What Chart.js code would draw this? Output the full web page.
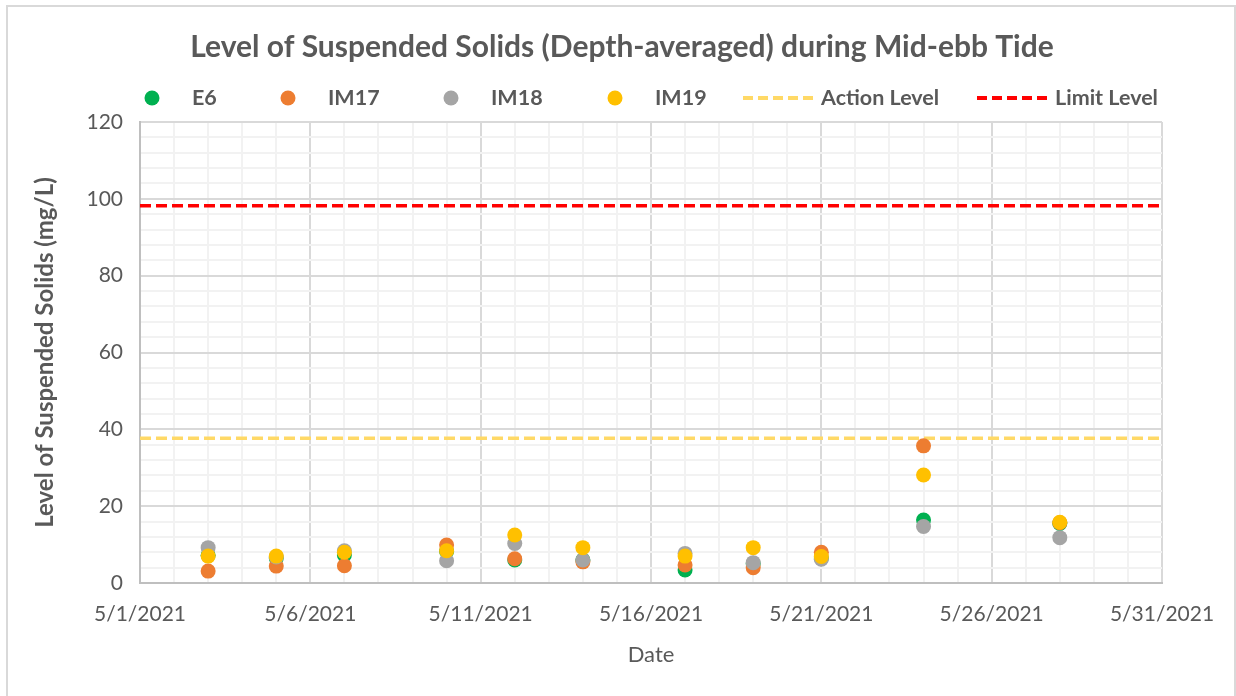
<!DOCTYPE html>
<html>
<head>
<meta charset="utf-8">
<script src="https://cdn.jsdelivr.net/npm/chart.js@4.4.0/dist/chart.umd.min.js"></script>
<style>
  html, body { margin: 0; padding: 0; background: #fff; }
  #wrap { position: relative; width: 1236px; height: 696px; }
  #wrap canvas { position: absolute; left: 0; top: 0; }
  #frame { position: absolute; left: 6px; top: 5px; width: 1226px; height: 700px; border: 2px solid #d9d9d9; pointer-events: none; }
</style>
</head>
<body>
<div id="wrap">
  <canvas id="tssChart" width="1236" height="696"></canvas>
  <div id="frame"></div>
</div>
<script>
// sampling dates and depth-averaged SS (mg/L)
const dates = ['5/3/2021', '5/5/2021', '5/7/2021', '5/10/2021', '5/12/2021', '5/14/2021',
               '5/17/2021', '5/19/2021', '5/21/2021', '5/24/2021', '5/28/2021'];
const e6   = [7.2, 6.5, 7.3, 8.2, 6.0, 6.0, 3.4, 5.0, 6.5, 16.4, 15.5];
const im17 = [3.1, 4.4, 4.5, 9.9, 6.3, 5.5, 4.7, 4.0, 8.0, 35.7, 15.7];
const im18 = [9.2, 6.8, 8.4, 5.8, 10.3, 6.0, 7.7, 5.3, 6.2, 14.7, 11.8];
const im19 = [7.0, 7.0, 8.0, 8.4, 12.5, 9.2, 7.0, 9.2, 6.9, 28.1, 15.8];
const actionLevel = 37.7;
const limitLevel = 98.2;

const xTickLabels = ['5/1/2021', '5/6/2021', '5/11/2021', '5/16/2021', '5/21/2021', '5/26/2021', '5/31/2021'];
const yTickLabels = [0, 20, 40, 60, 80, 100, 120];

const dayOf = s => Number(s.split('/')[1]);
const xMin = dayOf(xTickLabels[0]);
const xMax = dayOf(xTickLabels[xTickLabels.length - 1]);
const toPoints = arr => arr.map((v, i) => ({ x: dayOf(dates[i]), y: v }));
const levelLine = v => [{ x: xMin, y: v }, { x: xMax, y: v }];

const textColor = '#595959';
const fontFamily = 'Lato, "Open Sans", sans-serif';

function dotSet(label, data, color, order) {
    return {
        label: label,
        data: toPoints(data),
        backgroundColor: color,
        borderColor: color,
        borderWidth: 0,
        pointRadius: 7.5,
        order: order
    };
}

function lineSet(label, value, color) {
    return {
        label: label,
        data: levelLine(value),
        showLine: true,
        borderColor: color,
        backgroundColor: color,
        borderWidth: 3.5,
        borderDash: [11, 5],
        pointRadius: 0,
        order: 10
    };
}

// title + excel-ish legend drawn straight onto the canvas
const legendX = [152, 288, 451, 615, 778, 1012];
const headerPlugin = {
    id: 'header',
    afterDraw(chart) {
        const ctx = chart.ctx;
        ctx.save();
        ctx.fillStyle = textColor;
        ctx.textBaseline = 'middle';
        ctx.textAlign = 'center';
        ctx.font = 'bold 30px ' + fontFamily;
        ctx.fillText('Level of Suspended Solids (Depth-averaged) during Mid-ebb Tide', 622, 47);

        ctx.textAlign = 'left';
        ctx.font = 'bold 21.5px ' + fontFamily;
        chart.data.datasets.forEach((ds, i) => {
            const cx = legendX[i];
            const cy = 98;
            if (ds.showLine) {
                ctx.strokeStyle = ds.borderColor;
                ctx.lineWidth = 4;
                ctx.setLineDash([10, 5]);
                ctx.beginPath();
                ctx.moveTo(cx - 35, cy);
                ctx.lineTo(cx + 35, cy);
                ctx.stroke();
                ctx.setLineDash([]);
                ctx.fillStyle = textColor;
                ctx.fillText(ds.label, cx + 43, cy);
            } else {
                ctx.fillStyle = ds.backgroundColor;
                ctx.beginPath();
                ctx.arc(cx, cy, 7.5, 0, Math.PI * 2);
                ctx.fill();
                ctx.fillStyle = textColor;
                ctx.fillText(ds.label, cx + 40, cy);
            }
        });
        ctx.restore();
    }
};

new Chart(document.getElementById('tssChart'), {
    type: 'scatter',
    data: {
        datasets: [
            dotSet('E6', e6, '#00b050', 4),
            dotSet('IM17', im17, '#ed7d31', 3),
            dotSet('IM18', im18, '#a5a5a5', 2),
            dotSet('IM19', im19, '#ffc000', 1),
            lineSet('Action Level', actionLevel, '#ffd966'),
            lineSet('Limit Level', limitLevel, '#ff0000')
        ]
    },
    options: {
        responsive: false,
        animation: false,
        layout: { padding: { top: 122, right: 74, bottom: 0, left: 0 } },
        plugins: {
            legend: { display: false },
            tooltip: { enabled: false },
            title: { display: false }
        },
        scales: {
            x: {
                type: 'linear',
                min: xMin,
                max: xMax,
                afterFit: s => { s.height = 113; },
                grid: {
                    drawTicks: false,
                    lineWidth: 2,
                    color: c => (c.tick && (c.tick.value - xMin) % 5 === 0) ? '#d9d9d9' : '#f2f2f2'
                },
                border: { color: '#bfbfbf', width: 2 },
                ticks: {
                    stepSize: 1,
                    autoSkip: false,
                    maxRotation: 0,
                    padding: 19,
                    color: textColor,
                    font: { family: fontFamily, size: 21 },
                    callback: v => ((v - xMin) % 5 === 0) ? xTickLabels[(v - xMin) / 5] : ''
                },
                title: {
                    display: true,
                    text: 'Date',
                    color: textColor,
                    font: { family: fontFamily, size: 22 },
                    padding: { top: 0, bottom: 28 }
                }
            },
            y: {
                min: yTickLabels[0],
                max: yTickLabels[yTickLabels.length - 1],
                afterFit: s => { s.width = 140; },
                grid: {
                    drawTicks: false,
                    lineWidth: 2,
                    color: c => (c.tick && c.tick.value % 20 === 0) ? '#d9d9d9' : '#f2f2f2'
                },
                border: { color: '#bfbfbf', width: 2 },
                ticks: {
                    stepSize: 4,
                    autoSkip: false,
                    padding: 17,
                    color: textColor,
                    font: { family: fontFamily, size: 21 },
                    callback: v => yTickLabels.includes(v) ? v : ''
                },
                title: {
                    display: true,
                    text: 'Level of Suspended Solids (mg/L)',
                    color: textColor,
                    font: { family: fontFamily, size: 24, weight: 'bold' },
                    padding: { top: 31, bottom: 0 }
                }
            }
        }
    },
    plugins: [headerPlugin]
});
</script>
</body>
</html>
